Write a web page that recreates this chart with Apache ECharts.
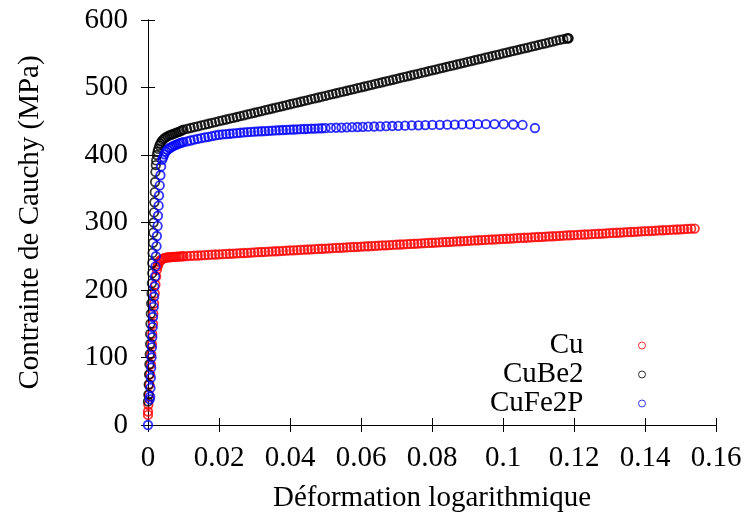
<!DOCTYPE html>
<html>
<head>
<meta charset="utf-8">
<script src="https://cdn.jsdelivr.net/npm/echarts@6/dist/echarts.min.js"></script>
<style>
html, body { margin: 0; padding: 0; background: #fff; }
#chart { width: 747px; height: 518px; }
</style>
</head>
<body>
<div id="chart"></div>
<script>
// valeurs [deformation, contrainte]
var cuData = [
	[0, 15], [0, 20], [0.0001, 30], [0.0003, 45], [0.0004, 60], [0.0006, 75], [0.0008, 90],
	[0.0009, 105], [0.0011, 120], [0.0012, 135], [0.0014, 150], [0.0015, 165], [0.0017, 180],
	[0.0019, 195], [0.0021, 208], [0.0023, 220], [0.0025, 230], [0.0027, 235], [0.0029, 238],
	[0.0032, 242], [0.0035, 244], [0.0038, 245], [0.0042, 246.5], [0.0046, 247.3], [0.005, 248],
	[0.0055, 248.3], [0.006, 248.5], [0.0065, 248.8], [0.007, 249], [0.0075, 249.1], [0.008, 249.3],
	[0.0085, 249.5], [0.009, 249.7], [0.0095, 249.9],
	[0.010, 250.0], [0.011, 250.3], [0.012, 250.6], [0.013, 250.9], [0.014, 251.1], [0.015, 251.4],
	[0.016, 251.7], [0.017, 252.0], [0.018, 252.3], [0.019, 252.6], [0.020, 252.9], [0.021, 253.1],
	[0.022, 253.4], [0.023, 253.7], [0.024, 254.0], [0.025, 254.3], [0.026, 254.6], [0.027, 254.8],
	[0.028, 255.1], [0.029, 255.4], [0.030, 255.7], [0.031, 256.0], [0.032, 256.3], [0.033, 256.6],
	[0.034, 256.8], [0.035, 257.1], [0.036, 257.4], [0.037, 257.7], [0.038, 258.0], [0.039, 258.3],
	[0.040, 258.6], [0.041, 258.8], [0.042, 259.1], [0.043, 259.4], [0.044, 259.7], [0.045, 260.0],
	[0.046, 260.3], [0.047, 260.5], [0.048, 260.8], [0.049, 261.1], [0.050, 261.4], [0.051, 261.7],
	[0.052, 262.0], [0.053, 262.3], [0.054, 262.5], [0.055, 262.8], [0.056, 263.1], [0.057, 263.4],
	[0.058, 263.7], [0.059, 264.0], [0.060, 264.3], [0.061, 264.5], [0.062, 264.8], [0.063, 265.1],
	[0.064, 265.4], [0.065, 265.7], [0.066, 266.0], [0.067, 266.2], [0.068, 266.5], [0.069, 266.8],
	[0.070, 267.1], [0.071, 267.4], [0.072, 267.7], [0.073, 268.0], [0.074, 268.2], [0.075, 268.5],
	[0.076, 268.8], [0.077, 269.1], [0.078, 269.4], [0.079, 269.7], [0.080, 270.0], [0.081, 270.2],
	[0.082, 270.5], [0.083, 270.8], [0.084, 271.1], [0.085, 271.4], [0.086, 271.7], [0.087, 271.9],
	[0.088, 272.2], [0.089, 272.5], [0.090, 272.8], [0.091, 273.1], [0.092, 273.4], [0.093, 273.7],
	[0.094, 273.9], [0.095, 274.2], [0.096, 274.5], [0.097, 274.8], [0.098, 275.1], [0.099, 275.4],
	[0.100, 275.7], [0.101, 275.9], [0.102, 276.2], [0.103, 276.5], [0.104, 276.8], [0.105, 277.1],
	[0.106, 277.4], [0.107, 277.6], [0.108, 277.9], [0.109, 278.2], [0.110, 278.5], [0.111, 278.8],
	[0.112, 279.1], [0.113, 279.4], [0.114, 279.6], [0.115, 279.9], [0.116, 280.2], [0.117, 280.5],
	[0.118, 280.8], [0.119, 281.1], [0.120, 281.4], [0.121, 281.6], [0.122, 281.9], [0.123, 282.2],
	[0.124, 282.5], [0.125, 282.8], [0.126, 283.1], [0.127, 283.3], [0.128, 283.6], [0.129, 283.9],
	[0.130, 284.2], [0.131, 284.5], [0.132, 284.8], [0.133, 285.1], [0.134, 285.3], [0.135, 285.6],
	[0.136, 285.9], [0.137, 286.2], [0.138, 286.5], [0.139, 286.8], [0.140, 287.1], [0.141, 287.3],
	[0.142, 287.6], [0.143, 287.9], [0.144, 288.2], [0.145, 288.5], [0.146, 288.8], [0.147, 289.0],
	[0.148, 289.3], [0.149, 289.6], [0.150, 289.9], [0.151, 290.2], [0.152, 290.5], [0.153, 290.8],
	[0.154, 291.0]
];

var cuBe2Data = [
	[0, 35], [0.0001, 45], [0.0002, 60], [0.0003, 75], [0.0004, 90], [0.0005, 105], [0.0006, 120],
	[0.0006, 135], [0.0007, 150], [0.0008, 165], [0.0009, 180], [0.001, 195], [0.0011, 210],
	[0.0012, 225], [0.0012, 240], [0.0013, 255], [0.0014, 270], [0.0015, 285], [0.0016, 300],
	[0.0017, 315], [0.0018, 330], [0.0019, 345], [0.002, 360], [0.0021, 375], [0.0022, 385],
	[0.0023, 392], [0.0025, 400], [0.0027, 405], [0.0029, 409], [0.0032, 414], [0.0035, 417],
	[0.0038, 420], [0.0042, 422.5], [0.0046, 424.5], [0.005, 426], [0.0055, 427.5], [0.006, 429],
	[0.0065, 430], [0.007, 431], [0.0075, 432], [0.008, 433], [0.0085, 434], [0.009, 435],
	[0.0095, 436.3],
	[0.010, 437.5], [0.011, 438.8], [0.012, 440.0], [0.013, 441.3], [0.014, 442.5], [0.015, 443.8],
	[0.016, 445.0], [0.017, 446.3], [0.018, 447.5], [0.019, 448.8], [0.020, 450.1], [0.021, 451.3],
	[0.022, 452.6], [0.023, 453.8], [0.024, 455.1], [0.025, 456.3], [0.026, 457.6], [0.027, 458.8],
	[0.028, 460.1], [0.029, 461.3], [0.030, 462.6], [0.031, 463.9], [0.032, 465.1], [0.033, 466.4],
	[0.034, 467.6], [0.035, 468.9], [0.036, 470.1], [0.037, 471.4], [0.038, 472.6], [0.039, 473.9],
	[0.040, 475.2], [0.041, 476.4], [0.042, 477.7], [0.043, 478.9], [0.044, 480.2], [0.045, 481.4],
	[0.046, 482.7], [0.047, 483.9], [0.048, 485.2], [0.049, 486.4], [0.050, 487.7], [0.051, 489.0],
	[0.052, 490.2], [0.053, 491.5], [0.054, 492.7], [0.055, 494.0], [0.056, 495.2], [0.057, 496.5],
	[0.058, 497.7], [0.059, 499.0], [0.060, 500.3], [0.061, 501.5], [0.062, 502.8], [0.063, 504.0],
	[0.064, 505.3], [0.065, 506.5], [0.066, 507.8], [0.067, 509.0], [0.068, 510.3], [0.069, 511.5],
	[0.070, 512.8], [0.071, 514.1], [0.072, 515.3], [0.073, 516.6], [0.074, 517.8], [0.075, 519.1],
	[0.076, 520.3], [0.077, 521.6], [0.078, 522.8], [0.079, 524.1], [0.080, 525.4], [0.081, 526.6],
	[0.082, 527.9], [0.083, 529.1], [0.084, 530.4], [0.085, 531.6], [0.086, 532.9], [0.087, 534.1],
	[0.088, 535.4], [0.089, 536.6], [0.090, 537.9], [0.091, 539.2], [0.092, 540.4], [0.093, 541.7],
	[0.094, 542.9], [0.095, 544.2], [0.096, 545.4], [0.097, 546.7], [0.098, 547.9], [0.099, 549.2],
	[0.100, 550.5], [0.101, 551.7], [0.102, 553.0], [0.103, 554.2], [0.104, 555.5], [0.105, 556.7],
	[0.106, 558.0], [0.107, 559.2], [0.108, 560.5], [0.109, 561.7], [0.110, 563.0], [0.111, 564.3],
	[0.112, 565.5], [0.113, 566.8], [0.114, 568.0], [0.115, 569.3], [0.116, 570.5], [0.117, 571.6],
	[0.118, 572.6], [0.1183, 573.2], [0.1185, 572.8]
];

var cuFe2PData = [
	[0, 0], [0.0005, 38], [0.0006, 42], [0.0007, 55], [0.0008, 70], [0.0009, 85], [0.001, 100],
	[0.0011, 115], [0.0012, 130], [0.0013, 145], [0.0014, 160], [0.0016, 175], [0.0017, 190],
	[0.0018, 205], [0.002, 220], [0.0021, 235], [0.0022, 250], [0.0024, 265], [0.0025, 280],
	[0.0027, 295], [0.0028, 310], [0.003, 325], [0.0031, 340], [0.0033, 355], [0.0035, 370],
	[0.0037, 383], [0.004, 393], [0.0043, 397], [0.0046, 401], [0.005, 405], [0.0055, 407.5],
	[0.006, 410], [0.0065, 411.5], [0.007, 413], [0.0075, 414.3], [0.008, 415.5], [0.0085, 416.5],
	[0.009, 417.5], [0.0095, 418.3],
	[0.010, 419], [0.011, 420.3], [0.012, 421.5], [0.013, 422.8], [0.014, 424], [0.015, 425],
	[0.016, 426], [0.017, 427], [0.018, 428], [0.019, 429], [0.020, 430], [0.021, 430.5],
	[0.022, 431], [0.023, 431.5], [0.024, 432], [0.025, 432.5], [0.026, 433], [0.027, 433.4],
	[0.028, 433.8], [0.029, 434.2], [0.030, 434.5], [0.031, 434.9], [0.032, 435.2], [0.033, 435.5],
	[0.034, 435.8], [0.035, 436.1], [0.036, 436.4], [0.037, 436.7], [0.038, 437], [0.039, 437.3],
	[0.040, 437.5], [0.041, 437.8], [0.042, 438], [0.043, 438.3], [0.044, 438.5], [0.045, 438.8],
	[0.046, 439], [0.047, 439.2], [0.048, 439.4], [0.049, 439.6], [0.050, 439.8], [0.0515, 440.1],
	[0.053, 440.4], [0.0545, 440.7], [0.056, 441], [0.0575, 441.2], [0.059, 441.5], [0.0605, 441.7],
	[0.062, 442], [0.0637, 442.2], [0.0654, 442.5], [0.0671, 442.7], [0.0688, 443.0],
	[0.0705, 443.2], [0.0724, 443.5], [0.0743, 443.8], [0.0762, 444.0], [0.0781, 444.3],
	[0.0801, 444.5], [0.0822, 444.7], [0.0843, 444.9], [0.0864, 445.1], [0.0885, 445.3],
	[0.0907, 445.5], [0.0929, 445.6], [0.0952, 445.7], [0.0976, 445.8], [0.1002, 445.6],
	[0.1029, 445.2], [0.1055, 444.6], [0.109, 440]
];

var xTicks = [0, 0.02, 0.04, 0.06, 0.08, 0.1, 0.12, 0.14, 0.16];
var yTicks = [0, 100, 200, 300, 400, 500, 600];

var serif = "'Liberation Serif', 'DejaVu Serif', serif";

function pointSeries(name, color, data) {
	return {
		name: name,
		type: 'scatter',
		data: data,
		symbol: 'circle',
		symbolSize: 8.5,
		xAxisIndex: 0,
		yAxisIndex: 0,
		itemStyle: { color: 'rgba(0,0,0,0)', borderColor: color, borderWidth: 1.8 },
		emphasis: { disabled: true },
		silent: true
	};
}

var chart = echarts.init(document.getElementById('chart'));

var axisLine = { show: true, lineStyle: { color: '#000', width: 1 } };
var tick = { show: true, inside: true, length: 7, lineStyle: { color: '#000' } };

chart.setOption({
	animation: false,
	backgroundColor: '#fff',
	grid: { left: 148, right: 31, top: 20, bottom: 92 },
	legend: {
		orient: 'vertical',
		right: 96,
		bottom: 95,
		align: 'right',
		itemWidth: 7,
		itemHeight: 7,
		itemGap: 0,
		selectedMode: false,
		data: ['Cu', 'CuBe2', 'CuFe2P'],
		itemStyle: { borderWidth: 1 },
		textStyle: {
			fontFamily: serif, fontSize: 29, color: '#000',
			width: 130, align: 'right', padding: [0, 50, 0, 0]
		}
	},
	xAxis: [{
		type: 'value', min: 0, max: 0.16, interval: 0.02,
		name: 'Déformation logarithmique', nameLocation: 'middle', nameGap: 59,
		nameTextStyle: { fontFamily: serif, fontSize: 29, color: '#000' },
		axisLine: axisLine, axisTick: tick, splitLine: { show: false },
		axisLabel: {
			fontFamily: serif, fontSize: 29, color: '#000', margin: 19,
			formatter: function (v) { return String(+v.toFixed(2)); }
		}
	}, {
		type: 'value', min: 0, max: 0.16, interval: 0.02, position: 'top',
		axisLine: axisLine, axisTick: tick, splitLine: { show: false },
		axisLabel: { show: false }
	}],
	yAxis: [{
		type: 'value', min: 0, max: 600, interval: 100,
		name: 'Contrainte de Cauchy (MPa)', nameLocation: 'middle', nameGap: 103,
		nameTextStyle: { fontFamily: serif, fontSize: 29, color: '#000' },
		axisLine: axisLine, axisTick: tick, splitLine: { show: false },
		axisLabel: { fontFamily: serif, fontSize: 29, color: '#000', margin: 20 }
	}, {
		type: 'value', min: 0, max: 600, interval: 100, position: 'right',
		axisLine: axisLine, axisTick: tick, splitLine: { show: false },
		axisLabel: { show: false }
	}],
	series: [
		pointSeries('Cu', '#ff0000', cuData),
		pointSeries('CuBe2', '#000000', cuBe2Data),
		pointSeries('CuFe2P', '#0000ff', cuFe2PData)
	]
});
</script>
</body>
</html>
